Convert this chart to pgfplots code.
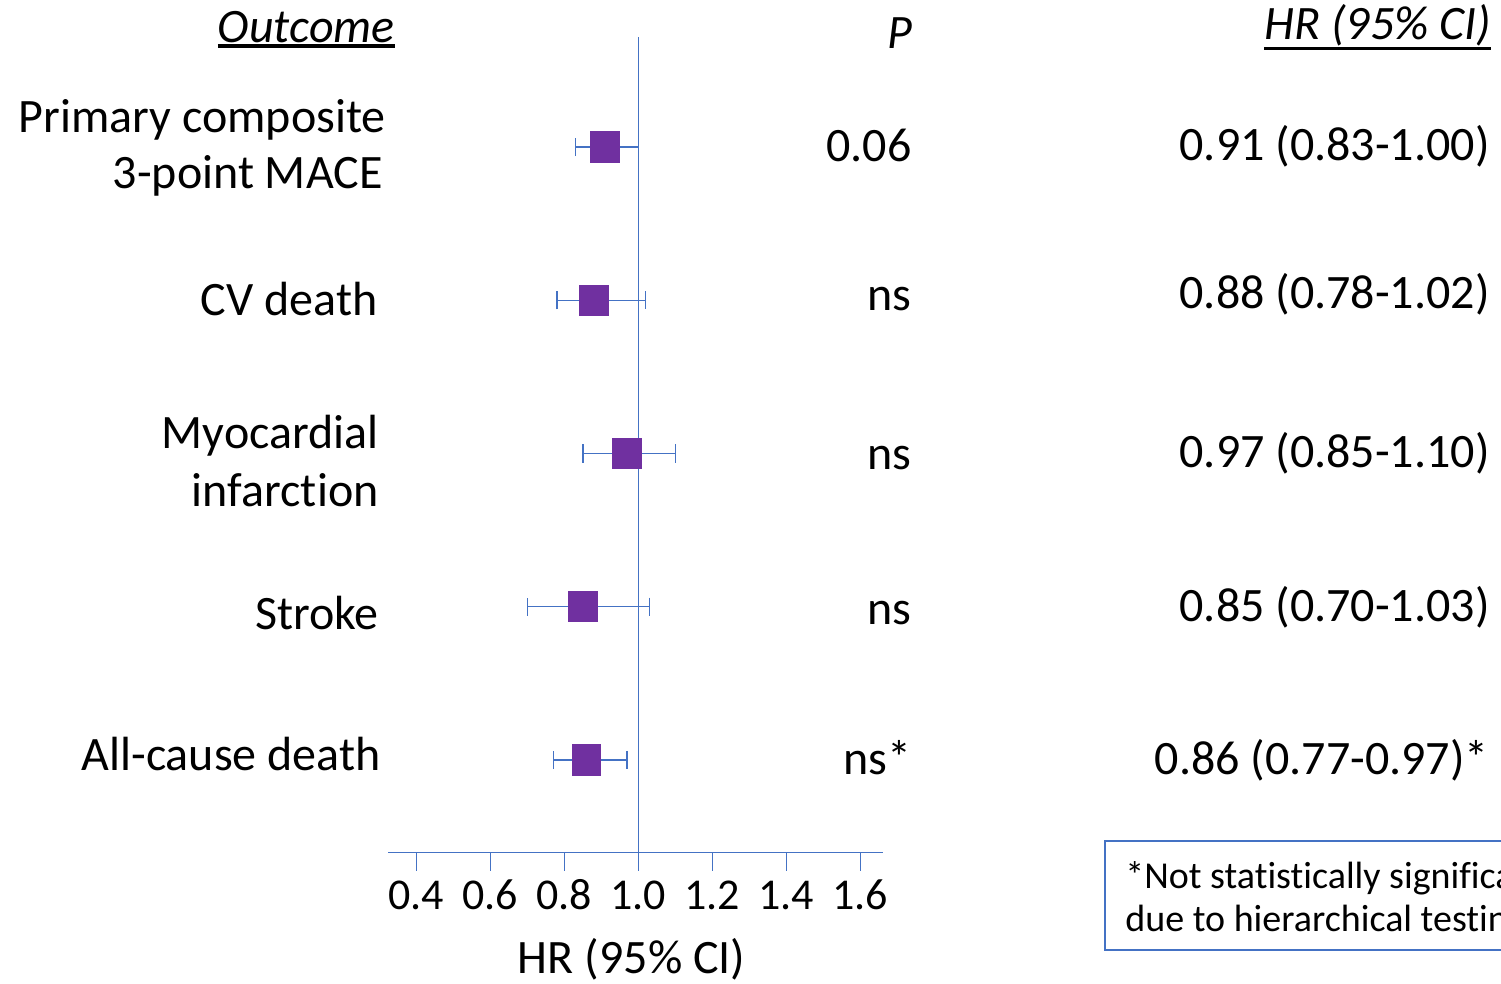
\documentclass[border=0pt]{standalone}
\usepackage{fontspec}
\setmainfont{Carlito}[Ligatures=NoCommon]
\usepackage{pgfplots}
\usepackage{pgfplotstable}
\pgfplotsset{compat=1.18}

\definecolor{hrblue}{HTML}{4472C4}
\definecolor{hrpurple}{HTML}{7030A0}

% hazard ratios with 95% confidence limits, one row per outcome (5 = top)
\pgfplotstableread{
row hr   lo   hi
5   0.91 0.83 1.00
4   0.88 0.78 1.02
3   0.97 0.85 1.10
2   0.85 0.70 1.03
1   0.86 0.77 0.97
}\hrdata

\newcommand{\mainfont}{\fontsize{24}{28}\selectfont}
\newcommand{\tickfont}{\fontsize{22}{26}\selectfont}
\newcommand{\notefont}{\fontsize{19}{22}\selectfont}
% underline at a given depth below the baseline
\newcommand{\ulat}[3]{\setbox0\hbox{#3}\rlap{\rule[-#1]{\wd0}{#2}}\box0}

\begin{document}
\begin{tikzpicture}
\useasboundingbox (0,0) rectangle (750.5pt,492pt);

\begin{axis}[
  at={(194.15pt,65.85pt)}, anchor=south west,
  scale only axis, width=247.5pt, height=407.65pt,
  xmin=0.3243, xmax=1.6622, ymin=0.398, ymax=5.718,
  axis x line*=bottom, axis y line=none,
  x axis line style={draw=hrblue, line width=0.75pt},
  xtick={0.4,0.6,0.8,1.0,1.2,1.4,1.6},
  tick align=outside, major tick length=9.2pt,
  tick style={draw=hrblue, line width=0.75pt},
  xticklabel style={font=\tickfont, anchor=base, yshift=-19.3pt},
  /pgf/number format/.cd, fixed, fixed zerofill, precision=1, assume math mode=true,
  /pgfplots/.cd,
  xlabel={HR (95\% CI)},
  xlabel style={font=\mainfont, at={(axis description cs:0.4917,0)}, anchor=base, yshift=-60.7pt},
  clip=false,
]
% line of no effect
\addplot[hrblue, line width=0.75pt] coordinates {(1,0.398) (1,5.718)};

% point estimates with confidence intervals
\addplot[only marks, mark=square*, mark size=7.2pt,
  mark options={fill=hrpurple, draw=hrpurple, line width=0pt, yscale=1.05},
  error bars/.cd, x dir=both, x explicit,
  error bar style={hrblue, line width=0.7pt},
  error mark options={hrblue, line width=0.7pt, mark size=4.6pt, rotate=90}]
  table[x=hr, y=row,
        x error plus expr=\thisrow{hi}-\thisrow{hr},
        x error minus expr=\thisrow{hr}-\thisrow{lo}] {\hrdata};
\end{axis}

% column headers
\node[anchor=base east, inner sep=0, font=\mainfont\itshape] at (197.5pt,470.65pt) {\ulat{2.5pt}{1.6pt}{Outcome}};
\node[anchor=base east, inner sep=0, font=\mainfont\itshape] at (456.5pt,467.85pt) {P};
\node[anchor=base east, inner sep=0, font=\mainfont\itshape] at (745.85pt,472.35pt) {\ulat{5.35pt}{1.65pt}{HR (95\% CI)}};

% outcome names
\begin{scope}[every node/.style={anchor=base east, inner sep=0, font=\mainfont}]
\node at (193pt,425.65pt) {Primary composite};
\node at (191.5pt,397.85pt) {3-point MACE};
\node at (189pt,334pt) {CV death};
\node at (189.5pt,267.5pt) {Myocardial};
\node at (189.5pt,238.5pt) {infarction};
\node at (189.5pt,177pt) {Stroke};
\node at (190.5pt,106.5pt) {All-cause death};

% P values
\node at (456pt,411.15pt) {0.06};
\node at (456pt,336.5pt) {ns};
\node at (456pt,257pt) {ns};
\node at (456pt,179.5pt) {ns};
\node at (456pt,104.5pt) {ns*};

% hazard ratios as text
\node at (745pt,411.5pt) {0.91 (0.83-1.00)};
\node at (745pt,337.75pt) {0.88 (0.78-1.02)};
\node at (745pt,258.25pt) {0.97 (0.85-1.10)};
\node at (745pt,181.25pt) {0.85 (0.70-1.03)};
\node at (744.5pt,104.5pt) {0.86 (0.77-0.97)*};
\end{scope}

% footnote box, running past the right edge
\begin{scope}
\clip (0,0) rectangle (750.5pt,492pt);
\draw[hrblue, line width=0.7pt] (552.5pt,17pt) rectangle (800pt,71.5pt);
\node[anchor=base west, inner sep=0, font=\notefont] at (562.5pt,47.5pt) {*Not statistically significant};
\node[anchor=base west, inner sep=0, font=\notefont] at (562.5pt,26pt) {due to hierarchical testing};
\end{scope}
\end{tikzpicture}
\end{document}
